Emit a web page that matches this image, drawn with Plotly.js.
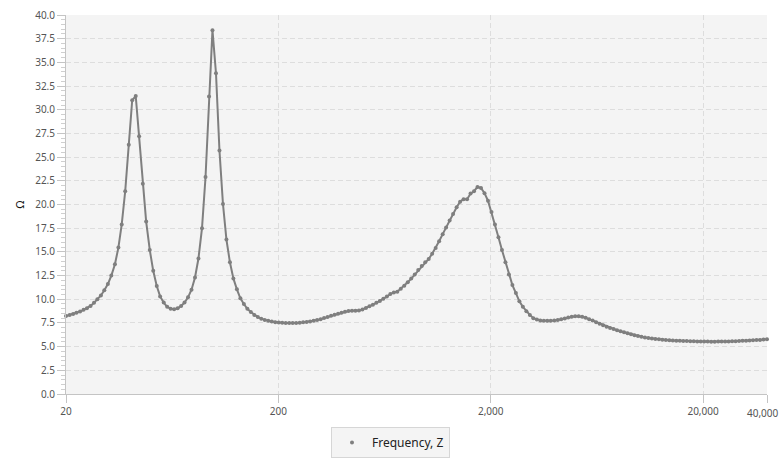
<!DOCTYPE html>
<html>
<head>
<meta charset="utf-8">
<script src="https://cdn.plot.ly/plotly-3.0.1.min.js"></script>
<style>
html,body{margin:0;padding:0;background:#ffffff;}
#chart{width:781px;height:462px;}
</style>
</head>
<body>
<div id="chart"></div>
<script>
// Frequency sweep (Hz)
var frequency = [
20.0,20.8,21.6,22.4,23.3,24.2,25.1,26.1,27.1,28.1,
29.2,30.3,31.5,32.7,34.0,35.3,36.6,38.0,39.5,41.0,
42.6,44.2,46.0,47.7,49.6,51.5,53.5,55.5,57.7,59.9,
62.2,64.6,67.1,69.7,72.3,75.1,78.0,81.0,84.1,87.4,
90.8,94.3,97.9,101.7,105.6,109.7,113.9,118.3,122.8,127.6,
132.5,137.6,142.9,148.4,154.1,160.1,166.2,172.6,179.3,186.2,
193.4,200.8,208.6,216.6,225.0,233.6,242.6,252.0,261.7,271.8,
282.3,293.1,304.4,316.2,328.4,341.0,354.1,367.8,382.0,396.7,
412.0,427.9,444.3,461.4,479.2,497.7,516.9,536.8,557.5,579.0,
601.3,624.4,648.5,673.5,699.5,726.4,754.4,783.5,813.6,845.0,
877.6,911.4,946.5,983.0,1021,1060,1101,1143,1188,1233,
1281,1330,1382,1435,1490,1548,1607,1669,1733,1800,
1870,1942,2017,2094,2175,2259,2346,2436,2530,2628,
2729,2834,2944,3057,3175,3297,3424,3556,3693,3836,
3984,4137,4296,4462,4634,4812,4998,5191,5391,5598,
5814,6038,6271,6512,6763,7024,7295,7576,7868,8171,
8485,8813,9152,9505,9871,10249,10645,11055,11480,11924,
12383,12861,13357,13871,14406,14961,15538,16137,16759,17406,
18076,18772,19497,20248,21028,21839,22680,23556,24463,25405,
26387,27402,28460,29555,30694,31879,33106,34385,35708,37083,
38515,40000
];
// Impedance magnitude (Ohm)
var impedance = [
8.23,8.33,8.45,8.57,8.70,8.88,9.05,9.30,9.62,10.0,
10.4,10.95,11.6,12.5,13.7,15.45,17.9,21.4,26.3,31.0,
31.45,27.2,22.2,18.2,15.2,13.0,11.4,10.3,9.65,9.2,
9.0,8.95,9.05,9.3,9.65,10.2,11.0,12.3,14.3,17.5,
22.9,31.4,38.4,33.85,25.7,20.05,16.3,13.9,12.2,11.05,
10.1,9.5,9.0,8.65,8.35,8.12,7.95,7.82,7.72,7.65,
7.58,7.54,7.51,7.50,7.49,7.49,7.50,7.52,7.56,7.60,
7.65,7.72,7.80,7.90,8.01,8.13,8.25,8.37,8.48,8.58,
8.68,8.76,8.78,8.78,8.80,8.92,9.07,9.25,9.43,9.62,
9.82,10.05,10.28,10.55,10.72,10.8,11.1,11.42,11.8,12.18,
12.6,13.08,13.52,13.9,14.25,14.8,15.4,16.13,16.87,17.58,
18.3,19.0,19.7,20.3,20.55,20.55,21.15,21.4,21.85,21.75,
21.2,20.4,19.2,17.9,16.55,15.2,13.9,12.6,11.5,10.65,
9.78,9.2,8.74,8.35,8.0,7.85,7.77,7.74,7.73,7.74,
7.76,7.8,7.88,7.97,8.07,8.16,8.2,8.2,8.15,8.05,
7.9,7.75,7.58,7.42,7.26,7.1,6.97,6.85,6.73,6.62,
6.52,6.42,6.3,6.2,6.12,6.04,5.97,5.91,5.86,5.81,
5.77,5.73,5.7,5.67,5.65,5.63,5.61,5.6,5.59,5.58,
5.56,5.55,5.54,5.53,5.53,5.52,5.52,5.53,5.53,5.54,
5.55,5.57,5.58,5.6,5.61,5.63,5.65,5.67,5.69,5.71,
5.74,5.77
];
var xTickValues = [20, 200, 2000, 20000, 40000];
var xTickLabels = ["20", "200", "2,000", "20,000", "40,000"];
var seriesName = "Frequency, Z";
var yAxisLabel = "\u03A9";

var lineColor = "#7f7f7f";
var tickFont = {family: "Noto Sans, Open Sans, sans-serif", size: 10, color: "#555555"};

// The last tick label sits at the right edge; draw it as an annotation nudged inward
var lastIdx = xTickLabels.length - 1;
var axisTickText = xTickLabels.map(function (t, i) { return i === lastIdx ? "" : t; });

var traces = [
  {
    type: "scatter",
    mode: "lines+markers",
    x: frequency,
    y: impedance,
    name: seriesName,
    showlegend: false,
    cliponaxis: false,
    line: {color: lineColor, width: 2},
    marker: {color: lineColor, size: 4}
  },
  {
    type: "scatter",
    mode: "markers",
    x: [null],
    y: [null],
    name: seriesName,
    showlegend: true,
    marker: {color: lineColor, size: 4}
  }
];

var layout = {
  width: 781,
  height: 462,
  margin: {l: 66, r: 14, t: 15, b: 68, autoexpand: false},
  paper_bgcolor: "#ffffff",
  plot_bgcolor: "#f4f4f4",
  font: {family: "Noto Sans, Open Sans, sans-serif", size: 10, color: "#555555"},
  showlegend: true,
  legend: {
    orientation: "h",
    xref: "container",
    x: 0.5, xanchor: "center",
    y: -0.087, yanchor: "top",
    bgcolor: "#f4f4f4",
    bordercolor: "#d6d6d6",
    borderwidth: 1,
    itemwidth: 30,
    font: {family: "Noto Sans, Open Sans, sans-serif", size: 12, color: "#222222"}
  },
  annotations: [
    {
      xref: "x", yref: "paper",
      x: Math.log10(xTickValues[lastIdx]), y: 0,
      xanchor: "center", yanchor: "top",
      xshift: -4, yshift: -10,
      text: xTickLabels[lastIdx],
      showarrow: false,
      font: tickFont
    }
  ],
  xaxis: {
    type: "log",
    range: [Math.log10(20) - 1e-6, Math.log10(40000) + 1e-6],
    tickmode: "array",
    tickvals: xTickValues,
    ticktext: axisTickText,
    ticks: "outside",
    ticklen: 8,
    tickcolor: "#c4c4c4",
    tickfont: tickFont,
    showline: true,
    linecolor: "#c4c4c4",
    linewidth: 1,
    showgrid: true,
    gridcolor: "#dddddd",
    griddash: "5px,3px",
    gridwidth: 1,
    zeroline: false,
    automargin: false
  },
  yaxis: {
    range: [0, 40],
    dtick: 2.5,
    tick0: 0,
    tickformat: ".1f",
    ticks: "outside",
    ticklen: 8,
    tickcolor: "#c4c4c4",
    tickfont: tickFont,
    showline: true,
    linecolor: "#c4c4c4",
    linewidth: 1,
    showgrid: true,
    gridcolor: "#dddddd",
    griddash: "5px,3px",
    gridwidth: 1,
    zeroline: false,
    automargin: false,
    minor: {dtick: 0.5, ticks: "outside", ticklen: 4, tickcolor: "#cfcfcf", showgrid: false},
    title: {text: yAxisLabel, font: {family: "Noto Sans, Open Sans, sans-serif", size: 11, color: "#111111"}, standoff: 8}
  }
};

Plotly.newPlot("chart", traces, layout, {displayModeBar: false, staticPlot: true});
</script>
</body>
</html>
